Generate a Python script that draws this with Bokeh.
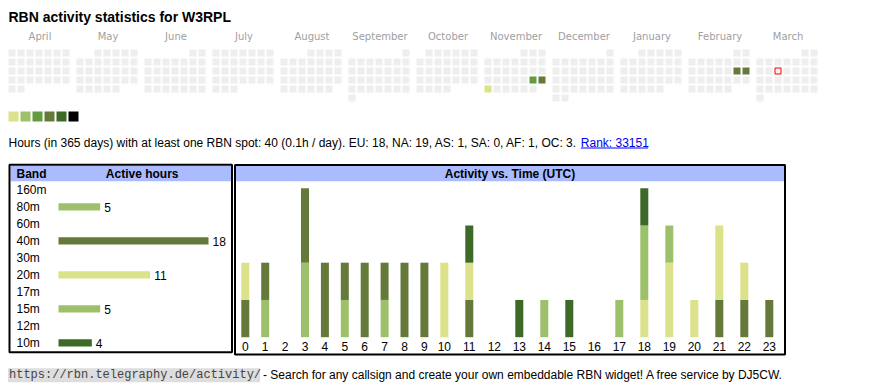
import datetime as dt
from bokeh.plotting import figure
from bokeh.models import Range1d, ColumnDataSource
from bokeh.core.properties import value
from bokeh.embed import file_html
from bokeh.resources import INLINE

# ---------------- data ----------------
title = "RBN activity statistics for W3RPL"
month_names = ["April", "May", "June", "July", "August", "September",
               "October", "November", "December", "January", "February", "March"]
month_years = [2024, 2024, 2024, 2024, 2024, 2024, 2024, 2024, 2024, 2025, 2025, 2025]
month_nums = [4, 5, 6, 7, 8, 9, 10, 11, 12, 1, 2, 3]

active_dates = ["2024-11-23", "2024-11-24", "2024-11-25", "2025-02-15", "2025-02-16"]
active_levels = [3, 4, 1, 4, 4]
today = "2025-03-12"

summary = "Hours (in 365 days) with at least one RBN spot: 40 (0.1h / day). EU: 18, NA: 19, AS: 1, SA: 0, AF: 1, OC: 3. "
rank_text = "Rank: 33151"

bands = ["160m", "80m", "60m", "40m", "30m", "20m", "17m", "15m", "12m", "10m"]
band_hours = [0, 5, 0, 18, 0, 11, 0, 5, 0, 4]

hours = list(range(24))
h80m = [0, 1, 0, 2, 0, 1, 0, 1, 0, 0, 0, 0, 0, 0, 0, 0, 0, 0, 0, 0, 0, 0, 0, 0]
h40m = [1, 1, 0, 2, 2, 1, 2, 1, 2, 2, 0, 1, 0, 0, 0, 0, 0, 0, 0, 0, 0, 1, 1, 1]
h20m = [1, 0, 0, 0, 0, 0, 0, 0, 0, 0, 2, 1, 0, 0, 0, 0, 0, 0, 1, 2, 1, 2, 1, 0]
h15m = [0, 0, 0, 0, 0, 0, 0, 0, 0, 0, 0, 0, 0, 0, 1, 0, 0, 1, 2, 1, 0, 0, 0, 0]
h10m = [0, 0, 0, 0, 0, 0, 0, 0, 0, 0, 0, 1, 0, 1, 0, 1, 0, 0, 1, 0, 0, 0, 0, 0]

footer_url = "https://rbn.telegraphy.de/activity/"
footer_text = "- Search for any callsign and create your own embeddable RBN widget! A free service by DJ5CW."

# ---------------- styles ----------------
palette = ["#dbe28a", "#9dc16b", "#659b40", "#657a3a", "#3d6a28", "#000000"]
band_color = {"160m": "#000000", "80m": palette[1], "60m": "#000000", "40m": palette[3],
              "30m": "#000000", "20m": palette[0], "17m": "#000000", "15m": palette[1],
              "12m": "#000000", "10m": palette[4]}
EMPTY = "#eeeeee"
HEAD = "#aabbff"
SANS = value("Liberation Sans")

W, H = 864, 386
p = figure(width=W, height=H, x_range=Range1d(0, W), y_range=Range1d(H, 0),
           output_backend="svg", toolbar_location=None, min_border=0,
           x_axis_type=None, y_axis_type=None)
p.grid.visible = False
p.outline_line_color = None
p.background_fill_color = "white"
p.border_fill_color = "white"

# title
p.text(x=[8], y=[16], text=[title], text_font=SANS, text_font_size="14px",
       text_font_style="bold", text_baseline="middle", text_color="#000000")

# ---------------- calendar ----------------
lvl_of = {dt.date.fromisoformat(d): l for d, l in zip(active_dates, active_levels)}
today_d = dt.date.fromisoformat(today)
cx, cy, cc, tx = [], [], [], []
tpos = None
for i, (y, m) in enumerate(zip(month_years, month_nums)):
    x0 = 8 + 68 * i
    tx.append(x0 + 31.5)
    first = dt.date(y, m, 1)
    d = first
    while d.month == m:
        col = d.weekday()
        row = (d.day - 1 + first.weekday()) // 7
        cx.append(x0 + 9 * col)
        cy.append(49 + 9 * row)
        lv = lvl_of.get(d)
        cc.append(palette[lv - 1] if lv else EMPTY)
        if d == today_d:
            tpos = (x0 + 9 * col, 49 + 9 * row)
        d += dt.timedelta(days=1)
cal = ColumnDataSource(dict(l=cx, r=[v + 7 for v in cx], t=cy, b=[v + 7 for v in cy], c=cc))
p.quad(left="l", right="r", top="t", bottom="b", fill_color="c", line_color=None, source=cal)
p.quad(left=[tpos[0] + 0.5], right=[tpos[0] + 6.5], top=[tpos[1] + 0.5], bottom=[tpos[1] + 6.5],
       fill_color="#f4f4f4", line_color="#ff0000", line_width=1)
p.text(x=tx, y=[35.5] * 12, text=month_names, text_font=value("DejaVu Sans"),
       text_font_size="10px", text_align="center", text_baseline="middle",
       text_color="#a0a0a0")

# legend swatches
sx = [8 + 12 * k for k in range(len(palette))]
p.quad(left=sx, right=[v + 10 for v in sx], top=[111] * 6, bottom=[121] * 6,
       fill_color=palette, line_color=None)

# summary line
p.text(x=[8], y=[142.7], text=[summary], text_font=SANS, text_font_size="12px",
       text_baseline="middle", text_color="#000000")
p.text(x=[580.3], y=[142.7], text=[rank_text], text_font=SANS, text_font_size="12px",
       text_baseline="middle", text_color="#0000ee")
p.segment(x0=[580.3], x1=[647.7], y0=[147.5], y1=[147.5], line_color="#0000ee", line_width=1)

# ---------------- band table ----------------
p.quad(left=[10], right=[230.7], top=[165.3], bottom=[180.7], fill_color=HEAD, line_color=None)
p.quad(left=[9], right=[231.5], top=[164.3], bottom=[351.7], fill_color=None,
       line_color="black", line_width=2)
p.text(x=[16], y=[173.7], text=["Band"], text_font=SANS, text_font_size="12px",
       text_font_style="bold", text_baseline="middle")
p.text(x=[141.7], y=[173.7], text=["Active hours"], text_font=SANS, text_font_size="12px",
       text_font_style="bold", text_baseline="middle", text_align="center")

p.extra_x_ranges = {"hrs": Range1d(start=(0 - 58) / (150 / 18), end=(W - 58) / (150 / 18))}
p.extra_y_ranges = {
    "band": Range1d(start=(H - 189.3) / 17, end=(0 - 189.3) / 17),
    "cnt": Range1d(start=(336.7 - H) / 37.25, end=(336.7 - 0) / 37.25),
}
TY = 0.5 / 17
bidx = list(range(len(bands)))
p.text(x=[16] * len(bands), y=[i + TY for i in bidx], text=bands, text_font=SANS,
       text_font_size="12px", text_baseline="middle", y_range_name="band")
bsel = [i for i in bidx if band_hours[i] > 0]
bsrc = ColumnDataSource(dict(
    y=bsel, ty=[i + TY for i in bsel], right=[band_hours[i] for i in bsel],
    c=[band_color[bands[i]] for i in bsel],
    lab=[str(band_hours[i]) for i in bsel]))
p.hbar(y="y", left=0, right="right", height=7.3 / 17, fill_color="c", line_color=None,
       source=bsrc, x_range_name="hrs", y_range_name="band")
p.text(x="right", y="ty", text="lab", source=bsrc,
       x_offset=4, text_font=SANS, text_font_size="12px", text_baseline="middle",
       x_range_name="hrs", y_range_name="band")

# ---------------- activity vs time ----------------
p.quad(left=[235.5], right=[783.5], top=[165.5], bottom=[180.7], fill_color=HEAD, line_color=None)
p.quad(left=[234.5], right=[784.5], top=[164.5], bottom=[354], fill_color=None,
       line_color="black", line_width=2)
p.text(x=[509.5], y=[173.7], text=["Activity vs. Time (UTC)"], text_font=SANS,
       text_font_size="12px", text_font_style="bold", text_baseline="middle",
       text_align="center")

hx = [244.8 + 19.9 * min(h, 10) + 25 * max(0, h - 10) for h in hours]
hsrc = ColumnDataSource(dict(x=hx, ly=[346.4] * 24, b80m=h80m, b40m=h40m, b20m=h20m,
                             b15m=h15m, b10m=h10m, lab=[str(h) for h in hours]))
stack_names = ["b80m", "b40m", "b20m", "b15m", "b10m"]
p.vbar_stack(stack_names, x="x", width=8, source=hsrc, y_range_name="cnt",
             fill_color=[band_color[n[1:]] for n in stack_names], line_color=None)
p.text(x="x", y="ly", text="lab", source=hsrc, text_font=SANS, text_font_size="12px",
       text_align="center", text_baseline="middle")

# ---------------- footer ----------------
p.quad(left=[7.5], right=[259.5], top=[367.7], bottom=[381.7], fill_color="#dddddd", line_color=None)
p.text(x=[8.5], y=[374.5], text=[footer_url], text_font=value("Liberation Mono"),
       text_font_size="12px", text_baseline="middle", text_color="#444444")
p.text(x=[262.5], y=[374.5], text=[footer_text], text_font=SANS, text_font_size="12px",
       text_baseline="middle", text_color="#000000")

open("out.html", "w").write(file_html(p, INLINE))
